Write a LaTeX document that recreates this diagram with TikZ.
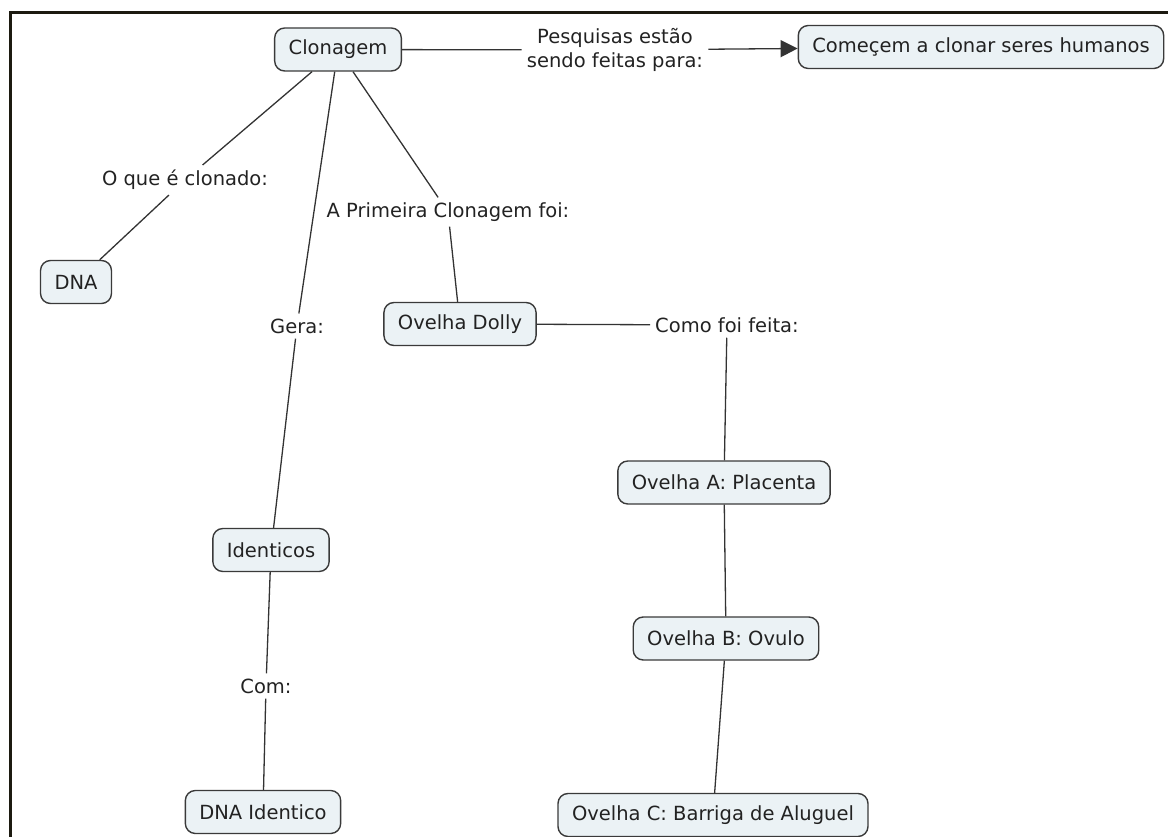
\documentclass[tikz,border=0pt]{standalone}
\usepackage{fontspec}
\setmainfont{DejaVu Sans}
\usetikzlibrary{arrows.meta}
\definecolor{conceptfill}{HTML}{EBF2F5}
\definecolor{conceptdraw}{HTML}{3A3A3A}
\definecolor{linkcol}{HTML}{333333}
\definecolor{framecol}{HTML}{1C1A10}
\definecolor{textcol}{HTML}{222222}
\tikzset{
  concept/.style={draw=conceptdraw, line width=1.4pt, fill=conceptfill,
    rounded corners=10pt, inner xsep=14pt, inner ysep=0pt,
    minimum height=43pt, text=textcol,
    font=\fontsize{19.5}{24}\selectfont},
  phrase/.style={inner sep=5pt, text=textcol, align=center,
    font=\fontsize{19.5}{24}\selectfont},
  link/.style={draw=linkcol, line width=1.3pt},
  arrowlink/.style={link, -{Triangle[length=17pt, width=17pt]}},
}
\begin{document}
\begin{tikzpicture}[x=1pt, y=-1pt]
  \useasboundingbox (0,0) rectangle (1168,837);
  % frame along the left and top edges
  \draw[framecol, line width=3pt] (10.5,837) -- (10.5,13) -- (1168,13);

  % concepts
  \node[concept] (clon)  at (338,49.5) {Clonagem};
  \node[concept] (hum)   at (981,47)   {Começem a clonar seres humanos};
  \node[concept] (dna)   at (76,282)   {DNA};
  \node[concept] (dolly) at (460,324)  {Ovelha Dolly};
  \node[concept] (ident) at (271,550)  {Identicos};
  \node[concept] (dnaid) at (263,812)  {DNA Identico};
  \node[concept] (ova)   at (724,482.5) {Ovelha A: Placenta};
  \node[concept] (ovb)   at (726,638.5) {Ovelha B: Ovulo};
  \node[concept] (ovc)   at (713,815)  {Ovelha C: Barriga de Aluguel};

  % linking phrases
  \node[phrase] (pesq) at (615,50)  {Pesquisas estão\\sendo feitas para:};
  \node[phrase] (oque) at (185,180) {O que é clonado:};
  \node[phrase] (prim) at (448,212) {A Primeira Clonagem foi:};
  \node[phrase] (gera) at (297,326) {Gera:};
  \node[phrase] (com)  at (266,686) {Com:};
  \node[phrase] (como) at (727,325) {Como foi feita:};

  % connectors
  \draw[link] (clon) -- (pesq);
  \draw[arrowlink] (pesq) -- (hum);
  \draw[link] (clon) -- (oque);
  \draw[link] (oque) -- (dna);
  \draw[link] (clon) -- (prim);
  \draw[link] (prim) -- (dolly);
  \draw[link] (clon) -- (gera);
  \draw[link] (gera) -- (ident);
  \draw[link] (ident) -- (com);
  \draw[link] (com) -- (dnaid);
  \draw[link] (dolly) -- (como);
  \draw[link] (como) -- (ova);
  \draw[link] (ova) -- (ovb);
  \draw[link] (ovb) -- (ovc);
\end{tikzpicture}
\end{document}
